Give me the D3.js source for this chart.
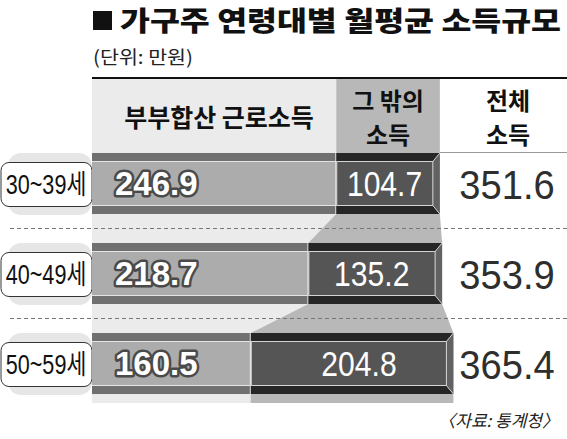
<!DOCTYPE html>
<html><head><meta charset="utf-8">
<script src="https://cdn.jsdelivr.net/npm/d3@7"></script>
<style>body{margin:0;background:#fff}svg{display:block}</style>
</head><body><svg id="c" width="567" height="439"></svg>
<script>
const ages = ["30~39세", "40~49세", "50~59세"];
const laborIncome = [246.9, 218.7, 160.5];
const otherIncome = [104.7, 135.2, 204.8];
const totalIncome = [351.6, 353.9, 365.4];
const seriesNames = ["부부합산 근로소득", ["그 밖의", "소득"], ["전체", "소득"]];
const titleText = "가구주 연령대별 월평균 소득규모";
const unitText = "(단위: 만원)";
const sourceText = "〈자료: 통계청〉";

const svg = d3.select("#c");
const KR = "'Noto Sans CJK KR', 'Noto Sans', sans-serif";
const NUM = "'Liberation Sans', Arial, 'Noto Sans CJK KR', sans-serif";

const x = d3.scaleLinear().domain([0, 365.4]).range([92, 453.5]);
const y = d3.scaleBand().domain(ages).range([153, 394]).paddingInner(29 / 90).paddingOuter(0);
const bh = y.bandwidth();
const rows = ages.map((a, i) => ({
  a, l: laborIncome[i], o: otherIncome[i], t: totalIncome[i],
  y0: y(a), xs: x(laborIncome[i]), xe: x(laborIncome[i] + otherIncome[i])
}));
const headTop = 79, headBot = rows[0].y0, endY = rows[rows.length - 1].y0 + bh + 9;

// title & unit
svg.append("rect").attr("x", 93).attr("y", 11).attr("width", 19).attr("height", 19).attr("fill", "#111");
svg.append("text").attr("x", 120).attr("y", 31)
  .attr("font-family", KR).attr("font-weight", 900).attr("font-size", 27.5)
  .attr("textLength", 441).attr("lengthAdjust", "spacingAndGlyphs")
  .attr("fill", "#111").text(titleText);
svg.append("text").attr("x", 93).attr("y", 64)
  .attr("font-family", KR).attr("font-size", 18.5)
  .attr("textLength", 100).attr("lengthAdjust", "spacingAndGlyphs")
  .attr("fill", "#222").text(unitText);

// background column
svg.append("rect").attr("x", x(0)).attr("y", headTop)
  .attr("width", d3.max(rows, d => d.xs) - x(0)).attr("height", endY - headTop)
  .attr("fill", "#ebebeb");

// band for "other income"
const left = [[rows[0].xs, headTop]];
rows.forEach(r => { left.push([r.xs, r.y0]); left.push([r.xs, r.y0 + bh]); });
left[left.length - 1] = [rows[rows.length - 1].xs, endY];
const right = [[rows[0].xe, headTop]];
rows.forEach(r => { right.push([r.xe, r.y0]); right.push([r.xe, r.y0 + bh]); });
right[right.length - 1] = [rows[rows.length - 1].xe, endY];
svg.append("polygon").attr("points", left.concat(right.reverse()).map(p => p.join(",")).join(" "))
  .attr("fill", "#b8b8b8");

// header lines
svg.append("line").attr("x1", x(0)).attr("x2", 567).attr("y1", 78).attr("y2", 78)
  .attr("stroke", "#111").attr("stroke-width", 2);
svg.append("line").attr("x1", rows[0].xe).attr("x2", 567).attr("y1", headBot - 0.5).attr("y2", headBot - 0.5)
  .attr("stroke", "#999").attr("stroke-width", 1);

// header texts
svg.append("text").attr("x", 219).attr("y", 127).attr("text-anchor", "middle")
  .attr("font-family", KR).attr("font-weight", 600).attr("font-size", 25).attr("fill", "#111")
  .text(seriesNames[0]);
[[seriesNames[1], (rows[0].xs + rows[0].xe) / 2], [seriesNames[2], 508]].forEach(([lines, cx]) => {
  lines.forEach((t, j) => {
    svg.append("text").attr("x", cx).attr("y", j ? 144 : 110).attr("text-anchor", "middle")
      .attr("font-family", KR).attr("font-weight", 600).attr("font-size", 24).attr("fill", "#111").text(t);
  });
});

// dashed separators
rows.slice(0, -1).forEach((r, i) => {
  const yy = Math.round((r.y0 + bh + rows[i + 1].y0) / 2) - 0.5;
  svg.append("line").attr("x1", 10).attr("x2", 567).attr("y1", yy).attr("y2", yy)
    .attr("stroke", "#777").attr("stroke-width", 1).attr("stroke-dasharray", "4,3");
});

const g = svg.selectAll("g.row").data(rows).join("g").attr("class", "row");

// age label boxes
g.append("rect").attr("x", 8).attr("y", d => d.y0).attr("width", x(0) - 8).attr("height", bh + 1)
  .attr("rx", 13).attr("fill", "#e6e6e6");
g.append("rect").attr("x", 1).attr("y", d => d.y0 + 9.5).attr("width", x(0) - 1).attr("height", 44)
  .attr("rx", 8).attr("fill", "#fff").attr("stroke", "#333").attr("stroke-width", 1);
g.append("text").attr("text-anchor", "middle")
  .attr("transform", d => `translate(46,${d.y0 + bh / 2 + 10}) scale(0.8,1)`)
  .attr("font-family", NUM).attr("font-size", 27).attr("fill", "#111").text(d => d.a);

// labor income segment
g.append("rect").attr("x", x(0)).attr("y", d => d.y0).attr("width", d => d.xs - x(0)).attr("height", bh).attr("fill", "#e4e4e4");
g.append("rect").attr("x", x(0)).attr("y", d => d.y0).attr("width", d => d.xs - x(0) - 1).attr("height", 8).attr("fill", "#707070");
g.append("rect").attr("x", x(0)).attr("y", d => d.y0 + 9).attr("width", d => d.xs - x(0) - 1).attr("height", 43).attr("fill", "#acacac");
g.append("rect").attr("x", x(0)).attr("y", d => d.y0 + 53).attr("width", d => d.xs - x(0) - 1).attr("height", bh - 53).attr("fill", "#707070");

// other income segment (bevelled)
const bv = 7;
g.append("polygon").attr("points", d => [[d.xs, d.y0], [d.xe, d.y0], [d.xe - bv, d.y0 + 8.5], [d.xs, d.y0 + 8.5]].join(" ")).attr("fill", "#262626");
g.append("polygon").attr("points", d => [[d.xs, d.y0 + bh], [d.xe, d.y0 + bh], [d.xe - bv, d.y0 + 52.5], [d.xs, d.y0 + 52.5]].join(" ")).attr("fill", "#262626");
g.append("polygon").attr("points", d => [[d.xe, d.y0], [d.xe, d.y0 + bh], [d.xe - bv, d.y0 + 52.5], [d.xe - bv, d.y0 + 8.5]].join(" ")).attr("fill", "#626262");
g.append("rect").attr("x", d => d.xs + 0.5).attr("y", d => d.y0 + 8.5).attr("width", d => d.xe - bv - d.xs - 0.5).attr("height", 44)
  .attr("fill", "#555").attr("stroke", "#d4d4d4").attr("stroke-width", 1);
g.append("line").attr("x1", d => d.xe).attr("y1", d => d.y0).attr("x2", d => d.xe - bv).attr("y2", d => d.y0 + 8.5).attr("stroke", "#ccc");
g.append("line").attr("x1", d => d.xe).attr("y1", d => d.y0 + bh).attr("x2", d => d.xe - bv).attr("y2", d => d.y0 + 52.5).attr("stroke", "#ccc");

// values
g.append("text").attr("x", 115).attr("y", d => d.y0 + bh / 2 + 11.5)
  .attr("font-family", NUM).attr("font-weight", 700).attr("font-size", 33)
  .attr("fill", "#fff").attr("stroke", "#4a4a4a").attr("stroke-width", 5)
  .attr("stroke-linejoin", "round").attr("paint-order", "stroke").text(d => d.l);
g.append("text").attr("text-anchor", "middle")
  .attr("transform", d => `translate(${Math.max((d.xs + d.xe - bv) / 2, 359)},${d.y0 + bh / 2 + 12.5}) scale(0.86,1)`)
  .attr("font-family", NUM).attr("font-size", 35).attr("fill", "#fff").text(d => d.o);
g.append("text").attr("text-anchor", "middle")
  .attr("transform", d => `translate(507,${d.y0 + bh / 2 + 15.5}) scale(0.93,1)`)
  .attr("font-family", NUM).attr("font-size", 41).attr("fill", "#2e2e2e").text(d => d.t);

// source
svg.append("text").attr("x", 559).attr("y", 427).attr("text-anchor", "end")
  .attr("font-family", KR).attr("font-style", "italic").attr("font-size", 17)
  .attr("fill", "#222").text(sourceText);
</script></body></html>
